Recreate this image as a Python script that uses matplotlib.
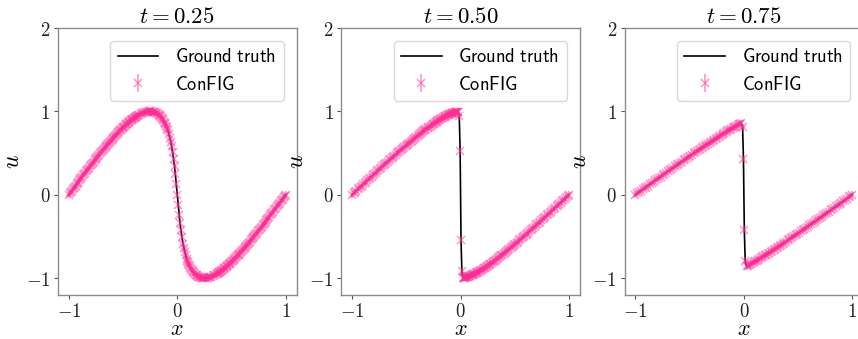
import matplotlib
matplotlib.use("Agg")
import matplotlib.pyplot as plt

plt.rcParams['mathtext.fontset'] = 'cm'
plt.rcParams['font.family'] = ['DejaVu Sans']

# Burgers solution snapshots at three times
times = ["0.25", "0.50", "0.75"]

# ---- ground truth curves ----
x_true_t025 = [-1.000, -0.982, -0.964, -0.947, -0.929, -0.911, -0.893, -0.876, -0.858, -0.840,
               -0.823, -0.805, -0.788, -0.771, -0.754, -0.737, -0.720, -0.703, -0.686, -0.670,
               -0.653, -0.637, -0.621, -0.605, -0.589, -0.573, -0.558, -0.543, -0.527, -0.512,
               -0.498, -0.483, -0.469, -0.455, -0.441, -0.427, -0.414, -0.401, -0.388, -0.375,
               -0.362, -0.338, -0.314, -0.292, -0.271, -0.250, -0.231, -0.212, -0.194, -0.178,
               -0.162, -0.148, -0.134, -0.121, -0.109, -0.098, -0.087, -0.078, -0.069, -0.061,
               -0.053, -0.043, -0.034, -0.025, -0.018, -0.009, 0.000,
               0.009, 0.018, 0.025, 0.034, 0.043, 0.053, 0.061, 0.069, 0.078, 0.087,
               0.098, 0.109, 0.121, 0.134, 0.148, 0.162, 0.178, 0.194, 0.212, 0.231,
               0.250, 0.271, 0.292, 0.314, 0.338, 0.362, 0.375, 0.388, 0.401, 0.414,
               0.427, 0.441, 0.455, 0.469, 0.483, 0.498, 0.512, 0.527, 0.543, 0.558,
               0.573, 0.589, 0.605, 0.621, 0.637, 0.653, 0.670, 0.686, 0.703, 0.720,
               0.737, 0.754, 0.771, 0.788, 0.805, 0.823, 0.840, 0.858, 0.876, 0.893,
               0.911, 0.929, 0.947, 0.964, 0.982, 1.000]
u_true_t025 = [0.000, 0.031, 0.063, 0.094, 0.125, 0.156, 0.187, 0.218, 0.249, 0.279,
               0.309, 0.339, 0.368, 0.397, 0.426, 0.454, 0.482, 0.509, 0.536, 0.562,
               0.588, 0.613, 0.637, 0.661, 0.685, 0.707, 0.729, 0.750, 0.771, 0.790,
               0.809, 0.827, 0.844, 0.861, 0.876, 0.891, 0.905, 0.918, 0.930, 0.941,
               0.951, 0.969, 0.982, 0.992, 0.998, 1.000, 0.998, 0.992, 0.982, 0.969,
               0.951, 0.930, 0.905, 0.876, 0.844, 0.809, 0.771, 0.729, 0.685, 0.637,
               0.588, 0.509, 0.426, 0.339, 0.249, 0.125, 0.000,
               -0.125, -0.249, -0.339, -0.426, -0.509, -0.588, -0.637, -0.685, -0.729, -0.771,
               -0.809, -0.844, -0.876, -0.905, -0.930, -0.951, -0.969, -0.982, -0.992, -0.998,
               -1.000, -0.998, -0.992, -0.982, -0.969, -0.951, -0.941, -0.930, -0.918, -0.905,
               -0.891, -0.876, -0.861, -0.844, -0.827, -0.809, -0.790, -0.771, -0.750, -0.729,
               -0.707, -0.685, -0.661, -0.637, -0.613, -0.588, -0.562, -0.536, -0.509, -0.482,
               -0.454, -0.426, -0.397, -0.368, -0.339, -0.309, -0.279, -0.249, -0.218, -0.187,
               -0.156, -0.125, -0.094, -0.063, -0.031, 0.000]

x_true_t050 = [-1.000, -0.974, -0.949, -0.923, -0.897, -0.872, -0.846, -0.821, -0.796, -0.771,
               -0.746, -0.721, -0.696, -0.671, -0.647, -0.623, -0.599, -0.576, -0.552, -0.529,
               -0.506, -0.484, -0.461, -0.439, -0.418, -0.396, -0.376, -0.355, -0.335, -0.315,
               -0.296, -0.276, -0.258, -0.240, -0.222, -0.205, -0.188, -0.171, -0.155, -0.140,
               -0.124, -0.110, -0.096, -0.082, -0.069, -0.056, -0.044, -0.032, -0.021,
               -0.012, -0.004, 0.004, 0.012,
               0.021, 0.032, 0.044, 0.056, 0.069, 0.082, 0.096, 0.110, 0.124, 0.140,
               0.155, 0.171, 0.188, 0.205, 0.222, 0.240, 0.258, 0.276, 0.296, 0.315,
               0.335, 0.355, 0.376, 0.396, 0.418, 0.439, 0.461, 0.484, 0.506, 0.529,
               0.552, 0.576, 0.599, 0.623, 0.647, 0.671, 0.696, 0.721, 0.746, 0.771,
               0.796, 0.821, 0.846, 0.872, 0.897, 0.923, 0.949, 0.974, 1.000]
u_true_t050 = [0.000, 0.031, 0.063, 0.094, 0.125, 0.156, 0.187, 0.218, 0.249, 0.279,
               0.309, 0.339, 0.368, 0.397, 0.426, 0.454, 0.482, 0.509, 0.536, 0.562,
               0.588, 0.613, 0.637, 0.661, 0.685, 0.707, 0.729, 0.750, 0.771, 0.790,
               0.809, 0.827, 0.844, 0.861, 0.876, 0.891, 0.905, 0.918, 0.930, 0.941,
               0.951, 0.960, 0.969, 0.976, 0.982, 0.988, 0.992, 0.996, 0.998,
               0.94, 0.52, -0.54, -0.92,
               -0.998, -0.996, -0.992, -0.988, -0.982, -0.976, -0.969, -0.960, -0.951, -0.941,
               -0.930, -0.918, -0.905, -0.891, -0.876, -0.861, -0.844, -0.827, -0.809, -0.790,
               -0.771, -0.750, -0.729, -0.707, -0.685, -0.661, -0.637, -0.613, -0.588, -0.562,
               -0.536, -0.509, -0.482, -0.454, -0.426, -0.397, -0.368, -0.339, -0.309, -0.279,
               -0.249, -0.218, -0.187, -0.156, -0.125, -0.094, -0.063, -0.031, 0.000]

x_true_t075 = [-1.000, -0.967, -0.933, -0.899, -0.866, -0.833, -0.800, -0.766, -0.734, -0.701,
               -0.668, -0.636, -0.604, -0.572, -0.541, -0.510, -0.479, -0.448, -0.418, -0.388,
               -0.359, -0.330, -0.302, -0.274, -0.247, -0.220, -0.193, -0.167, -0.142, -0.117,
               -0.093, -0.070, -0.047, -0.025,
               -0.012, -0.004, 0.004, 0.012,
               0.025, 0.047, 0.070, 0.093, 0.117, 0.142, 0.167, 0.193, 0.220, 0.247,
               0.274, 0.302, 0.330, 0.359, 0.388, 0.418, 0.448, 0.479, 0.510, 0.541,
               0.572, 0.604, 0.636, 0.668, 0.701, 0.734, 0.766, 0.800, 0.833, 0.866,
               0.899, 0.933, 0.967, 1.000]
u_true_t075 = [0.000, 0.031, 0.063, 0.094, 0.125, 0.156, 0.187, 0.218, 0.249, 0.279,
               0.309, 0.339, 0.368, 0.397, 0.426, 0.454, 0.482, 0.509, 0.536, 0.562,
               0.588, 0.613, 0.637, 0.661, 0.685, 0.707, 0.729, 0.750, 0.771, 0.790,
               0.809, 0.827, 0.844, 0.861,
               0.81, 0.43, -0.42, -0.79,
               -0.861, -0.844, -0.827, -0.809, -0.790, -0.771, -0.750, -0.729, -0.707, -0.685,
               -0.661, -0.637, -0.613, -0.588, -0.562, -0.536, -0.509, -0.482, -0.454, -0.426,
               -0.397, -0.368, -0.339, -0.309, -0.279, -0.249, -0.218, -0.187, -0.156, -0.125,
               -0.094, -0.063, -0.031, 0.000]

# ---- ConFIG predictions (mean) on the evaluation points ----
x_cfg_t025 = [-1.000, -0.991, -0.982, -0.973, -0.964, -0.955, -0.947, -0.938, -0.929, -0.920,
              -0.911, -0.902, -0.893, -0.884, -0.876, -0.867, -0.858, -0.849, -0.840, -0.832,
              -0.823, -0.814, -0.805, -0.797, -0.788, -0.779, -0.771, -0.762, -0.754, -0.745,
              -0.737, -0.728, -0.720, -0.711, -0.703, -0.694, -0.686, -0.678, -0.670, -0.661,
              -0.653, -0.645, -0.637, -0.629, -0.621, -0.613, -0.605, -0.597, -0.589, -0.581,
              -0.573, -0.565, -0.558, -0.550, -0.543, -0.535, -0.527, -0.520, -0.512, -0.505,
              -0.498, -0.491, -0.483, -0.476, -0.469, -0.462, -0.455, -0.448, -0.441, -0.434,
              -0.427, -0.421, -0.414, -0.407, -0.401, -0.394, -0.388, -0.381, -0.375, -0.369,
              -0.362,
              -0.350, -0.338, -0.326, -0.314, -0.303, -0.292, -0.281, -0.271, -0.260, -0.250,
              -0.240, -0.231, -0.221, -0.212, -0.203, -0.194, -0.186, -0.178, -0.170, -0.162,
              -0.155, -0.148, -0.141, -0.134, -0.127, -0.121, -0.115, -0.109, -0.103, -0.098,
              -0.092,
              -0.087, -0.078, -0.069, -0.061, -0.053,
              -0.043, -0.034, -0.025, -0.018, -0.009, 0.000,
              0.009, 0.018, 0.025, 0.034, 0.043,
              0.053, 0.061, 0.069, 0.078, 0.087,
              0.092, 0.098, 0.103, 0.109, 0.115, 0.121, 0.127, 0.134, 0.141, 0.148, 0.155,
              0.162, 0.170, 0.178, 0.186, 0.194, 0.203, 0.212, 0.221, 0.231, 0.240,
              0.250, 0.260, 0.271, 0.281, 0.292, 0.303, 0.314, 0.326, 0.338, 0.350,
              0.362, 0.369, 0.375, 0.381, 0.388, 0.394, 0.401, 0.407, 0.414, 0.421,
              0.427, 0.434, 0.441, 0.448, 0.455, 0.462, 0.469, 0.476, 0.483, 0.491,
              0.498, 0.505, 0.512, 0.520, 0.527, 0.535, 0.543, 0.550, 0.558, 0.565,
              0.573, 0.581, 0.589, 0.597, 0.605, 0.613, 0.621, 0.629, 0.637, 0.645,
              0.653, 0.661, 0.670, 0.678, 0.686, 0.694, 0.703, 0.711, 0.720, 0.728,
              0.737, 0.745, 0.754, 0.762, 0.771, 0.779, 0.788, 0.797, 0.805, 0.814,
              0.823, 0.832, 0.840, 0.849, 0.858, 0.867, 0.876, 0.884, 0.893, 0.902,
              0.911, 0.920, 0.929, 0.938, 0.947, 0.955, 0.964, 0.973, 0.982, 0.991, 1.000]
u_cfg_t025 = [0.000, 0.016, 0.031, 0.047, 0.063, 0.079, 0.094, 0.110, 0.125, 0.141,
              0.156, 0.172, 0.187, 0.203, 0.218, 0.233, 0.249, 0.264, 0.279, 0.294,
              0.309, 0.324, 0.339, 0.354, 0.368, 0.383, 0.397, 0.412, 0.426, 0.440,
              0.454, 0.468, 0.482, 0.496, 0.509, 0.523, 0.536, 0.549, 0.562, 0.575,
              0.588, 0.600, 0.613, 0.625, 0.637, 0.649, 0.661, 0.673, 0.685, 0.696,
              0.707, 0.718, 0.729, 0.740, 0.750, 0.760, 0.771, 0.780, 0.790, 0.800,
              0.809, 0.818, 0.827, 0.836, 0.844, 0.853, 0.861, 0.869, 0.876, 0.884,
              0.891, 0.898, 0.905, 0.911, 0.918, 0.924, 0.930, 0.935, 0.941, 0.946,
              0.951,
              0.960, 0.969, 0.976, 0.982, 0.988, 0.992, 0.996, 0.998, 1.000, 1.000,
              1.000, 0.998, 0.996, 0.992, 0.988, 0.982, 0.976, 0.969, 0.960, 0.951,
              0.941, 0.930, 0.918, 0.905, 0.891, 0.876, 0.861, 0.844, 0.827, 0.809,
              0.790,
              0.771, 0.729, 0.685, 0.637, 0.588,
              0.509, 0.426, 0.339, 0.249, 0.125, 0.000,
              -0.125, -0.249, -0.339, -0.426, -0.509,
              -0.588, -0.637, -0.685, -0.729, -0.771,
              -0.790, -0.809, -0.827, -0.844, -0.861, -0.876, -0.891, -0.905, -0.918, -0.930, -0.941,
              -0.951, -0.960, -0.969, -0.976, -0.982, -0.988, -0.992, -0.996, -0.998, -1.000,
              -1.000, -1.000, -0.998, -0.996, -0.992, -0.988, -0.982, -0.976, -0.969, -0.960,
              -0.951, -0.946, -0.941, -0.935, -0.930, -0.924, -0.918, -0.911, -0.905, -0.898,
              -0.891, -0.884, -0.876, -0.869, -0.861, -0.853, -0.844, -0.836, -0.827, -0.818,
              -0.809, -0.800, -0.790, -0.780, -0.771, -0.760, -0.750, -0.740, -0.729, -0.718,
              -0.707, -0.696, -0.685, -0.673, -0.661, -0.649, -0.637, -0.625, -0.613, -0.600,
              -0.588, -0.575, -0.562, -0.549, -0.536, -0.523, -0.509, -0.496, -0.482, -0.468,
              -0.454, -0.440, -0.426, -0.412, -0.397, -0.383, -0.368, -0.354, -0.339, -0.324,
              -0.309, -0.294, -0.279, -0.264, -0.249, -0.233, -0.218, -0.203, -0.187, -0.172,
              -0.156, -0.141, -0.125, -0.110, -0.094, -0.079, -0.063, -0.047, -0.031, -0.016, 0.000]

x_cfg_t050 = [-1.000, -0.987, -0.974, -0.961, -0.949, -0.936, -0.923, -0.910, -0.897, -0.885,
              -0.872, -0.859, -0.846, -0.834, -0.821, -0.808, -0.796, -0.783, -0.771, -0.758,
              -0.746, -0.733, -0.721, -0.708, -0.696, -0.684, -0.671, -0.659, -0.647, -0.635,
              -0.623, -0.611, -0.599, -0.587, -0.576, -0.564, -0.552, -0.541, -0.529, -0.518,
              -0.506, -0.495, -0.484, -0.472, -0.461, -0.450, -0.439, -0.429, -0.418, -0.407,
              -0.396, -0.386, -0.376, -0.365, -0.355, -0.345, -0.335, -0.325, -0.315, -0.305,
              -0.296, -0.286, -0.276, -0.267, -0.258, -0.249, -0.240, -0.231, -0.222, -0.213,
              -0.205, -0.196, -0.188, -0.179, -0.171, -0.163, -0.155, -0.147, -0.140, -0.132,
              -0.124, -0.117, -0.110, -0.103, -0.096, -0.089, -0.082, -0.075, -0.069, -0.062,
              -0.056, -0.050, -0.044, -0.038, -0.032, -0.027, -0.021,
              -0.012, -0.004, 0.004, 0.012,
              0.021, 0.027, 0.032, 0.038, 0.044, 0.050, 0.056, 0.062, 0.069, 0.075,
              0.082, 0.089, 0.096, 0.103, 0.110, 0.117, 0.124, 0.132, 0.140, 0.147,
              0.155, 0.163, 0.171, 0.179, 0.188, 0.196, 0.205, 0.213, 0.222, 0.231,
              0.240, 0.249, 0.258, 0.267, 0.276, 0.286, 0.296, 0.305, 0.315, 0.325,
              0.335, 0.345, 0.355, 0.365, 0.376, 0.386, 0.396, 0.407, 0.418, 0.429,
              0.439, 0.450, 0.461, 0.472, 0.484, 0.495, 0.506, 0.518, 0.529, 0.541,
              0.552, 0.564, 0.576, 0.587, 0.599, 0.611, 0.623, 0.635, 0.647, 0.659,
              0.671, 0.684, 0.696, 0.708, 0.721, 0.733, 0.746, 0.758, 0.771, 0.783,
              0.796, 0.808, 0.821, 0.834, 0.846, 0.859, 0.872, 0.885, 0.897, 0.910,
              0.923, 0.936, 0.949, 0.961, 0.974, 0.987, 1.000]
u_cfg_t050 = [0.000, 0.016, 0.031, 0.047, 0.063, 0.079, 0.094, 0.110, 0.125, 0.141,
              0.156, 0.172, 0.187, 0.203, 0.218, 0.233, 0.249, 0.264, 0.279, 0.294,
              0.309, 0.324, 0.339, 0.354, 0.368, 0.383, 0.397, 0.412, 0.426, 0.440,
              0.454, 0.468, 0.482, 0.496, 0.509, 0.523, 0.536, 0.549, 0.562, 0.575,
              0.588, 0.600, 0.613, 0.625, 0.637, 0.649, 0.661, 0.673, 0.685, 0.696,
              0.707, 0.718, 0.729, 0.740, 0.750, 0.760, 0.771, 0.780, 0.790, 0.800,
              0.809, 0.818, 0.827, 0.836, 0.844, 0.853, 0.861, 0.869, 0.876, 0.884,
              0.891, 0.898, 0.905, 0.911, 0.918, 0.924, 0.930, 0.935, 0.941, 0.946,
              0.951, 0.956, 0.960, 0.965, 0.969, 0.972, 0.976, 0.979, 0.982, 0.985,
              0.988, 0.990, 0.992, 0.994, 0.996, 0.997, 0.998,
              0.94, 0.52, -0.54, -0.92,
              -0.998, -0.997, -0.996, -0.994, -0.992, -0.990, -0.988, -0.985, -0.982, -0.979,
              -0.976, -0.972, -0.969, -0.965, -0.960, -0.956, -0.951, -0.946, -0.941, -0.935,
              -0.930, -0.924, -0.918, -0.911, -0.905, -0.898, -0.891, -0.884, -0.876, -0.869,
              -0.861, -0.853, -0.844, -0.836, -0.827, -0.818, -0.809, -0.800, -0.790, -0.780,
              -0.771, -0.760, -0.750, -0.740, -0.729, -0.718, -0.707, -0.696, -0.685, -0.673,
              -0.661, -0.649, -0.637, -0.625, -0.613, -0.600, -0.588, -0.575, -0.562, -0.549,
              -0.536, -0.523, -0.509, -0.496, -0.482, -0.468, -0.454, -0.440, -0.426, -0.412,
              -0.397, -0.383, -0.368, -0.354, -0.339, -0.324, -0.309, -0.294, -0.279, -0.264,
              -0.249, -0.233, -0.218, -0.203, -0.187, -0.172, -0.156, -0.141, -0.125, -0.110,
              -0.094, -0.079, -0.063, -0.047, -0.031, -0.016, 0.000]

x_cfg_t075 = [-1.000, -0.983, -0.967, -0.950, -0.933, -0.916, -0.899, -0.883, -0.866, -0.849,
              -0.833, -0.816, -0.800, -0.783, -0.766, -0.750, -0.734, -0.717, -0.701, -0.685,
              -0.668, -0.652, -0.636, -0.620, -0.604, -0.588, -0.572, -0.556, -0.541, -0.525,
              -0.510, -0.494, -0.479, -0.463, -0.448, -0.433, -0.418, -0.403, -0.388, -0.374,
              -0.359, -0.345, -0.330, -0.316, -0.302, -0.288, -0.274, -0.260, -0.247, -0.233,
              -0.220, -0.206, -0.193, -0.180, -0.167, -0.155, -0.142, -0.130, -0.117, -0.105,
              -0.093, -0.081, -0.070, -0.058, -0.047, -0.036, -0.025,
              -0.012, -0.004, 0.004, 0.012,
              0.025, 0.036, 0.047, 0.058, 0.070, 0.081, 0.093, 0.105, 0.117, 0.130,
              0.142, 0.155, 0.167, 0.180, 0.193, 0.206, 0.220, 0.233, 0.247, 0.260,
              0.274, 0.288, 0.302, 0.316, 0.330, 0.345, 0.359, 0.374, 0.388, 0.403,
              0.418, 0.433, 0.448, 0.463, 0.479, 0.494, 0.510, 0.525, 0.541, 0.556,
              0.572, 0.588, 0.604, 0.620, 0.636, 0.652, 0.668, 0.685, 0.701, 0.717,
              0.734, 0.750, 0.766, 0.783, 0.800, 0.816, 0.833, 0.849, 0.866, 0.883,
              0.899, 0.916, 0.933, 0.950, 0.967, 0.983, 1.000]
u_cfg_t075 = [0.000, 0.016, 0.031, 0.047, 0.063, 0.079, 0.094, 0.110, 0.125, 0.141,
              0.156, 0.172, 0.187, 0.203, 0.218, 0.233, 0.249, 0.264, 0.279, 0.294,
              0.309, 0.324, 0.339, 0.354, 0.368, 0.383, 0.397, 0.412, 0.426, 0.440,
              0.454, 0.468, 0.482, 0.496, 0.509, 0.523, 0.536, 0.549, 0.562, 0.575,
              0.588, 0.600, 0.613, 0.625, 0.637, 0.649, 0.661, 0.673, 0.685, 0.696,
              0.707, 0.718, 0.729, 0.740, 0.750, 0.760, 0.771, 0.780, 0.790, 0.800,
              0.809, 0.818, 0.827, 0.836, 0.844, 0.853, 0.861,
              0.81, 0.43, -0.42, -0.79,
              -0.861, -0.853, -0.844, -0.836, -0.827, -0.818, -0.809, -0.800, -0.790, -0.780,
              -0.771, -0.760, -0.750, -0.740, -0.729, -0.718, -0.707, -0.696, -0.685, -0.673,
              -0.661, -0.649, -0.637, -0.625, -0.613, -0.600, -0.588, -0.575, -0.562, -0.549,
              -0.536, -0.523, -0.509, -0.496, -0.482, -0.468, -0.454, -0.440, -0.426, -0.412,
              -0.397, -0.383, -0.368, -0.354, -0.339, -0.324, -0.309, -0.294, -0.279, -0.264,
              -0.249, -0.233, -0.218, -0.203, -0.187, -0.172, -0.156, -0.141, -0.125, -0.110,
              -0.094, -0.079, -0.063, -0.047, -0.031, -0.016, 0.000]

# spread of the ConFIG runs (error bar half-height)
config_std = [0.04, 0.04, 0.04]

x_true = [x_true_t025, x_true_t050, x_true_t075]
u_true = [u_true_t025, u_true_t050, u_true_t075]
x_cfg = [x_cfg_t025, x_cfg_t050, x_cfg_t075]
u_cfg = [u_cfg_t025, u_cfg_t050, u_cfg_t075]

xticks = [-1, 0, 1]
xtick_labels = [r'$-1$', r'$0$', r'$1$']
yticks = [-1, 0, 1, 2]
ytick_labels = [r'$-1$', r'$0$', r'$1$', r'$2$']

pink = '#ff2f96'
spine_gray = '#8c8c8c'

fig = plt.figure(figsize=(8.58, 3.39), dpi=100)
lefts = [0.0676, 0.3978, 0.7280]
for i, t in enumerate(times):
    ax = fig.add_axes([lefts[i], 0.1307, 0.278, 0.7867])
    ax.plot(x_true[i], u_true[i], color='black', lw=1.2,
            label=r'$\mathsf{Ground\ truth}$', zorder=2)
    ax.errorbar(x_cfg[i], u_cfg[i], yerr=config_std[i], fmt='x', color=pink, alpha=0.5,
                markersize=5.5, markeredgewidth=1.1, elinewidth=1.2, capsize=0,
                label=r'$\mathsf{ConFIG}$', zorder=3)
    ax.set_xlim(-1.1, 1.1)
    ax.set_ylim(-1.2, 2.0)
    ax.set_xticks(xticks, labels=xtick_labels)
    ax.set_yticks(yticks, labels=ytick_labels)
    ax.tick_params(labelsize=13.5, length=3, width=0.8, color='#555555', labelcolor='#222222',
                   pad=2.5)
    for s in ax.spines.values():
        s.set_color(spine_gray)
        s.set_linewidth(1.0)
    ax.set_title(r'$t = %s$' % t, fontsize=16.5, pad=3)
    ax.set_xlabel(r'$x$', fontsize=16, labelpad=-1.5)
    ax.set_ylabel(r'$u$', fontsize=17, labelpad=1)
    ax.legend(loc='upper right', fontsize=13.3, handlelength=2.2, handletextpad=0.9,
              borderaxespad=0.7, edgecolor='#d9d9d9', framealpha=1.0)

fig.savefig('out.png', dpi=100)
